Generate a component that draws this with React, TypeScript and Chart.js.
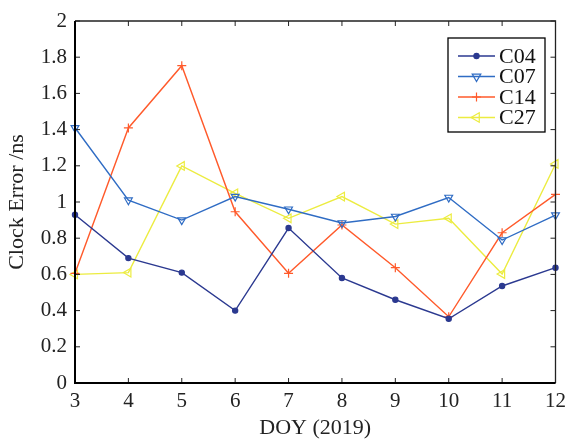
import React, { useEffect, useRef } from "react";
import { Chart, registerables } from "chart.js";

Chart.register(...registerables);

const days = [3, 4, 5, 6, 7, 8, 9, 10, 11, 12];
const c04 = [0.93, 0.69, 0.61, 0.4, 0.856, 0.58, 0.46, 0.355, 0.536, 0.637];
const c07 = [1.41, 1.01, 0.9, 1.03, 0.96, 0.884, 0.92, 1.025, 0.79, 0.928];
const c14 = [0.606, 1.409, 1.753, 0.946, 0.606, 0.873, 0.637, 0.366, 0.83, 1.042];
const c27 = [0.6, 0.61, 1.199, 1.048, 0.91, 1.03, 0.878, 0.91, 0.602, 1.21];
const seriesNames = ["C04", "C07", "C14", "C27"];
const colors = ["#2b3990", "#2f6cc4", "#ff5a2b", "#ecec40"];

const FONT = "'Liberation Serif', 'Times New Roman', serif";

function drawMarker(ctx: any, style: string, rotDeg: number, r: number, x: number, y: number, fill: boolean) {
  const rot = (rotDeg * Math.PI) / 180;
  ctx.beginPath();
  if (style === "circle") {
    ctx.arc(x, y, r, 0, Math.PI * 2);
    ctx.fill();
    ctx.stroke();
  } else if (style === "triangle") {
    for (let k = 0; k < 3; k++) {
      const ang = rot + (k * 2 * Math.PI) / 3 - Math.PI / 2;
      const px = x + Math.cos(ang) * r;
      const py = y + Math.sin(ang) * r;
      if (k === 0) ctx.moveTo(px, py);
      else ctx.lineTo(px, py);
    }
    ctx.closePath();
    if (fill) ctx.fill();
    ctx.stroke();
  } else if (style === "cross") {
    ctx.moveTo(x - r, y);
    ctx.lineTo(x + r, y);
    ctx.moveTo(x, y - r);
    ctx.lineTo(x, y + r);
    ctx.stroke();
  }
}

const framePlugin = {
  id: "frame",
  afterDraw(chart: any) {
    const { ctx, chartArea: a, scales } = chart;
    ctx.save();
    ctx.strokeStyle = "#222";
    ctx.lineWidth = 1.3;
    ctx.beginPath();
    ctx.moveTo(a.left, a.top);
    ctx.lineTo(a.right, a.top);
    ctx.lineTo(a.right, a.bottom);
    ctx.stroke();
    const L = 5;
    ctx.lineWidth = 1;
    ctx.beginPath();
    scales.x.ticks.forEach((t: any) => {
      const px = scales.x.getPixelForValue(t.value);
      ctx.moveTo(px, a.bottom);
      ctx.lineTo(px, a.bottom - L);
      ctx.moveTo(px, a.top);
      ctx.lineTo(px, a.top + L);
    });
    scales.y.ticks.forEach((t: any) => {
      const py = scales.y.getPixelForValue(t.value);
      ctx.moveTo(a.left, py);
      ctx.lineTo(a.left + L, py);
      ctx.moveTo(a.right, py);
      ctx.lineTo(a.right - L, py);
    });
    ctx.stroke();
    ctx.strokeStyle = "#000";
    ctx.lineWidth = 2;
    ctx.beginPath();
    ctx.moveTo(a.left, a.top);
    ctx.lineTo(a.left, a.bottom);
    ctx.lineTo(a.right, a.bottom);
    ctx.stroke();

    // legend
    const bx = 448, by = 38, bw = 97, bh = 94;
    ctx.fillStyle = "#fff";
    ctx.fillRect(bx, by, bw, bh);
    ctx.strokeStyle = "#000";
    ctx.lineWidth = 1.3;
    ctx.strokeRect(bx, by, bw, bh);
    ctx.font = `22px ${FONT}`;
    ctx.textBaseline = "middle";
    ctx.textAlign = "left";
    chart.data.datasets.forEach((ds: any, i: number) => {
      const y = by + 18 + i * 20.5;
      ctx.strokeStyle = ds.borderColor;
      ctx.lineWidth = 1.5;
      ctx.beginPath();
      ctx.moveTo(bx + 10, y);
      ctx.lineTo(bx + 47, y);
      ctx.stroke();
      ctx.fillStyle = ds.pointBackgroundColor;
      ctx.lineWidth = 1.2;
      drawMarker(ctx, ds.pointStyle, ds.pointRotation, ds.pointStyle === "triangle" ? ds.pointRadius * 1.1 : ds.pointRadius, bx + 28.5, y, ds.pointStyle !== "triangle");
      ctx.fillStyle = "#111";
      ctx.fillText(ds.label, bx + 51, y + 1);
    });
    ctx.restore();
  },
};

export default function App() {
  const ref = useRef<HTMLCanvasElement>(null);
  useEffect(() => {
    const mk = (label: string, data: number[], i: number, style: string, rot: number, r: number, bg: string) => ({
      label,
      data: days.map((d, k) => ({ x: d, y: data[k] })),
      borderColor: colors[i],
      backgroundColor: colors[i],
      pointBackgroundColor: bg,
      pointBorderColor: colors[i],
      pointStyle: style,
      pointRotation: rot,
      pointRadius: r,
      pointBorderWidth: 1.2,
      borderWidth: 1.4,
      tension: 0,
      clip: false as any,
    });
    const chart = new Chart(ref.current!, {
      type: "line",
      data: {
        datasets: [
          mk(seriesNames[0], c04, 0, "circle", 0, 2.6, colors[0]),
          mk(seriesNames[1], c07, 1, "triangle", 180, 4.5, "rgba(0,0,0,0)"),
          mk(seriesNames[2], c14, 2, "cross", 0, 4.5, colors[2]),
          mk(seriesNames[3], c27, 3, "triangle", -90, 5, "rgba(0,0,0,0)"),
        ] as any,
      },
      options: {
        animation: false,
        responsive: false,
        layout: { padding: { top: 21, right: 10, left: 0, bottom: 0 } },
        plugins: { legend: { display: false }, tooltip: { enabled: false } },
        scales: {
          x: {
            type: "linear",
            min: 3,
            max: 12,
            afterFit: (s: any) => { s.height = 58; },
            grid: { display: false, drawTicks: false },
            border: { display: false },
            ticks: { stepSize: 1, color: "#222", padding: 6, font: { family: FONT, size: 21 } },
            title: { display: true, text: "DOY (2019)", color: "#222", padding: { top: 2, bottom: 0 }, font: { family: FONT, size: 22 } },
          },
          y: {
            min: 0,
            max: 2,
            afterFit: (s: any) => { s.width = 75; },
            grid: { display: false, drawTicks: false },
            border: { display: false },
            ticks: { stepSize: 0.2, color: "#222", padding: 8, font: { family: FONT, size: 21 }, callback: (v: any) => String(Math.round(Number(v) * 10) / 10) },
            title: { display: true, text: "Clock Error /ns", color: "#222", padding: { top: 4, bottom: 0 }, font: { family: FONT, size: 22 } },
          },
        },
      },
      plugins: [framePlugin],
    });
    return () => chart.destroy();
  }, []);
  return (
    <div style={{ position: "fixed", left: 0, top: 0, width: 572, height: 441, background: "#fff" }}>
      <canvas ref={ref} width={572} height={441} />
    </div>
  );
}
